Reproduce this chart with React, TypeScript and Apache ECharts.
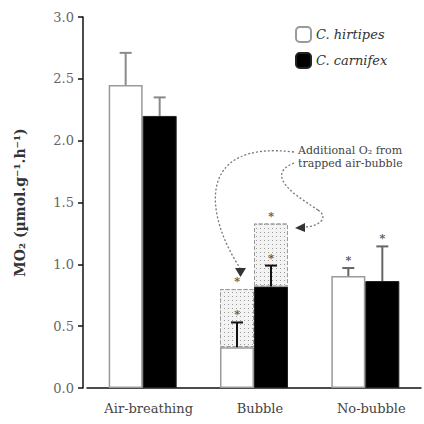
import React, { useEffect, useRef } from "react";
import * as echarts from "echarts";

const categories = ["Air-breathing", "Bubble", "No-bubble"];
const hirtipesBase = [2.45, 0.33, 0.905];
const hirtipesBubble = [0, 0.47, 0];
const carnifexBase = [2.2, 0.82, 0.865];
const carnifexBubble = [0, 0.51, 0];
const hirtipesErr = [0.26, 0.2, 0.065];
const carnifexErr = [0.15, 0.17, 0.28];
const errColors = ["#8a8a8a", "#111111", "#666666"];
// significance markers: [category index, value, side (-1 hirtipes, 1 carnifex)]
const stars: [number, number, number][] = [
  [1, 0.8, -1],
  [1, 0.53, -1],
  [1, 1.33, 1],
  [1, 0.99, 1],
  [2, 0.97, -1],
  [2, 1.145, 1],
];
const yTicks = [0, 0.5, 1, 1.5, 2, 2.5, 3];

const SERIF = "DejaVu Serif";
const HALF = 17;

export default function App() {
  const ref = useRef<HTMLDivElement>(null);
  useEffect(() => {
    if (!ref.current) return;
    const chart = echarts.init(ref.current, null, { renderer: "svg" });
    const stipple = {
      color: "#f3f3f3",
      borderColor: "#9a9a9a",
      borderWidth: 1,
      borderType: "dashed" as const,
      decal: {
        symbol: "rect",
        symbolSize: 1,
        color: "#9a9a9a",
        dashArrayX: [1, 3],
        dashArrayY: [1, 3],
        rotation: 0,
      },
    };
    const errData: any[] = [];
    categories.forEach((_, i) => {
      errData.push([i, hirtipesBase[i], hirtipesBase[i] + hirtipesErr[i], -1, i]);
      errData.push([i, carnifexBase[i], carnifexBase[i] + carnifexErr[i], 1, i]);
    });
    chart.setOption({
      animation: false,
      grid: { left: 87, right: 3, top: 17, bottom: 36 },
      legend: {
        orient: "vertical",
        left: 290,
        top: 21,
        itemWidth: 15,
        itemHeight: 15,
        itemGap: 9,
        data: ["C. hirtipes", "C. carnifex"],
        textStyle: { fontFamily: SERIF, fontStyle: "italic", fontSize: 13, color: "#333" },
      },
      xAxis: {
        type: "category",
        data: categories,
        axisLine: { lineStyle: { color: "#111", width: 1.5 } },
        axisTick: { show: false },
        axisLabel: {
          interval: 0,
          fontFamily: SERIF,
          fontSize: 13,
          color: "#444",
          margin: 14,
          padding: [0, 0, 0, 12],
        },
      },
      yAxis: {
        type: "value",
        min: 0,
        max: 3,
        interval: 0.5,
        offset: 4,
        splitLine: { show: false },
        axisLine: { show: true, lineStyle: { color: "#111", width: 1.5 } },
        axisTick: { show: true, inside: false, length: 5, lineStyle: { color: "#111", width: 1.5 } },
        axisLabel: {
          fontFamily: SERIF,
          fontSize: 13,
          color: "#666",
          margin: 9,
          formatter: (v: number) => (yTicks.includes(v) ? v.toFixed(1) : ""),
        },
        name: "MO₂ (µmol.g⁻¹.h⁻¹)",
        nameLocation: "middle",
        nameRotate: 90,
        nameGap: 56,
        nameTextStyle: { fontFamily: SERIF, fontSize: 14, fontWeight: "bold", color: "#333" },
      },
      series: [
        {
          name: "C. hirtipes",
          type: "bar",
          stack: "h",
          barWidth: 34,
          barGap: "0%",
          data: hirtipesBase,
          itemStyle: { color: "#ffffff", borderColor: "#9a9a9a", borderWidth: 1.5 },
        },
        {
          name: "hirtipes bubble",
          type: "bar",
          stack: "h",
          barWidth: 34,
          data: hirtipesBubble.map((v) => (v > 0 ? v : null)),
          itemStyle: stipple,
        },
        {
          name: "C. carnifex",
          type: "bar",
          stack: "c",
          barWidth: 34,
          barGap: "0%",
          data: carnifexBase,
          itemStyle: { color: "#000000", borderColor: "#222", borderWidth: 1 },
        },
        {
          name: "carnifex bubble",
          type: "bar",
          stack: "c",
          barWidth: 34,
          data: carnifexBubble.map((v) => (v > 0 ? v : null)),
          itemStyle: stipple,
        },
        {
          type: "custom",
          name: "errors",
          z: 5,
          data: errData,
          renderItem: (params: any, api: any) => {
            const cat = api.value(0);
            const side = api.value(3);
            const low = api.coord([cat, api.value(1)]);
            const high = api.coord([cat, api.value(2)]);
            const x = low[0] + side * HALF;
            const color = errColors[api.value(4)];
            return {
              type: "group",
              children: [
                {
                  type: "line",
                  shape: { x1: x, y1: low[1], x2: x, y2: high[1] },
                  style: { stroke: color, lineWidth: 2 },
                },
                {
                  type: "line",
                  shape: { x1: x - 6, y1: high[1], x2: x + 6, y2: high[1] },
                  style: { stroke: color, lineWidth: 2 },
                },
              ],
            };
          },
        },
        {
          type: "custom",
          name: "stars",
          z: 6,
          itemStyle: { color: "#555" },
          data: stars,
          renderItem: (params: any, api: any) => {
            const cat = api.value(0);
            const side = api.value(2);
            const p = api.coord([cat, api.value(1)]);
            return {
              type: "text",
              x: p[0] + side * HALF,
              y: p[1] - 2,
              style: {
                text: "*",
                fill: "#555",
                font: "bold 11px " + SERIF,
                align: "center",
                verticalAlign: "bottom",
              },
            };
          },
        },
      ],
      graphic: [
        {
          type: "text",
          left: 298,
          top: 144,
          style: {
            text: "Additional O₂ from\ntrapped air-bubble",
            font: "11px " + SERIF,
            fill: "#444",
            lineHeight: 13,
          },
        },
        {
          type: "bezierCurve",
          shape: { x1: 294, y1: 152, cpx1: 195, cpy1: 140, cpx2: 205, cpy2: 215, x2: 240, y2: 268 },
          style: { stroke: "#777", lineWidth: 1.3, lineDash: [2, 2], fill: null },
        },
        {
          type: "polygon",
          shape: { points: [[235, 268], [246, 268], [240.5, 277]] },
          style: { fill: "#333" },
        },
        {
          type: "bezierCurve",
          shape: { x1: 294, y1: 163, cpx1: 262, cpy1: 176, cpx2: 300, cpy2: 198, x2: 318, y2: 210 },
          style: { stroke: "#777", lineWidth: 1.3, lineDash: [2, 2], fill: null },
        },
        {
          type: "bezierCurve",
          shape: { x1: 318, y1: 210, cpx1: 330, cpy1: 218, cpx2: 318, cpy2: 227, x2: 304, y2: 227 },
          style: { stroke: "#777", lineWidth: 1.3, lineDash: [2, 2], fill: null },
        },
        {
          type: "polygon",
          shape: { points: [[295, 228], [305, 223], [305, 232]] },
          style: { fill: "#333" },
        },
      ],
    });
    return () => chart.dispose();
  }, []);
  return (
    <div
      ref={ref}
      style={{ width: 424, height: 424, position: "absolute", left: 0, top: 0, background: "#fff" }}
    />
  );
}
